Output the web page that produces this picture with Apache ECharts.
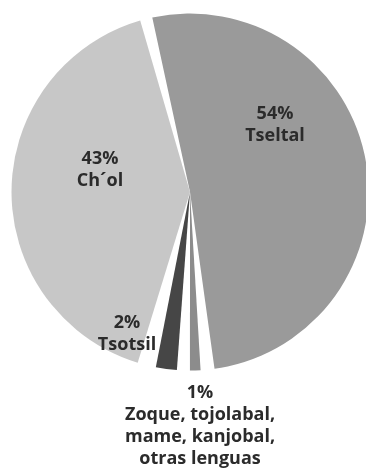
<!DOCTYPE html>
<html>
<head>
<meta charset="utf-8">
<script src="https://cdn.jsdelivr.net/npm/echarts@6/dist/echarts.min.js"></script>
<style>
  html, body { margin: 0; padding: 0; background: #ffffff; }
  #chart { width: 366px; height: 469px; }
</style>
</head>
<body>
<div id="chart"></div>
<script>
// Hablantes de lenguas indígenas por lengua (porcentaje)
const lenguas = ['Tseltal', 'Otras', 'Tsotsil', 'Ch´ol'];
const porcentajes = [54, 1, 2, 43];
const etiquetas = [
  '54%\nTseltal',
  '1%\nZoque, tojolabal,\nmame, kanjobal,\notras lenguas',
  '2%\nTsotsil',
  '43%\nCh´ol'
];
const colores = ['#9a9a9a', '#8c8c8c', '#464646', '#c7c7c7'];

// label anchor points (px) for each slice
const labelPos = [[275, 125], [200, 426], [127, 334], [100, 170]];

// angular gap (degrees) after each slice; the rest of the circle is shared
// in proportion to the values
const gaps = [4.5, 4.2, 6.0, 4.0];
const START = 102.2;
const total = porcentajes.reduce((a, b) => a + b, 0);
const available = 360 - gaps.reduce((a, b) => a + b, 0);

const chart = echarts.init(document.getElementById('chart'), null, { renderer: 'canvas' });

let angle = START;
const series = porcentajes.map((v, i) => {
  const span = v / total * available;
  const s = {
    type: 'pie',
    center: [190, 192],
    radius: [0, 178.5],
    startAngle: angle,
    endAngle: angle - span,
    clockwise: true,
    silent: true,
    label: {
      show: true,
      position: 'inside',
      formatter: () => etiquetas[i],
      fontFamily: 'Open Sans',
      fontWeight: 'bold',
      fontSize: 18,
      lineHeight: 22,
      color: '#2b2b2b',
      align: 'center'
    },
    labelLine: { show: false },
    labelLayout: () => ({
      x: labelPos[i][0],
      y: labelPos[i][1],
      align: 'center',
      verticalAlign: 'middle'
    }),
    data: [{ name: lenguas[i], value: v, itemStyle: { color: colores[i] } }]
  };
  angle -= span + gaps[i];
  return s;
});

chart.setOption({ animation: false, series });
</script>
</body>
</html>
